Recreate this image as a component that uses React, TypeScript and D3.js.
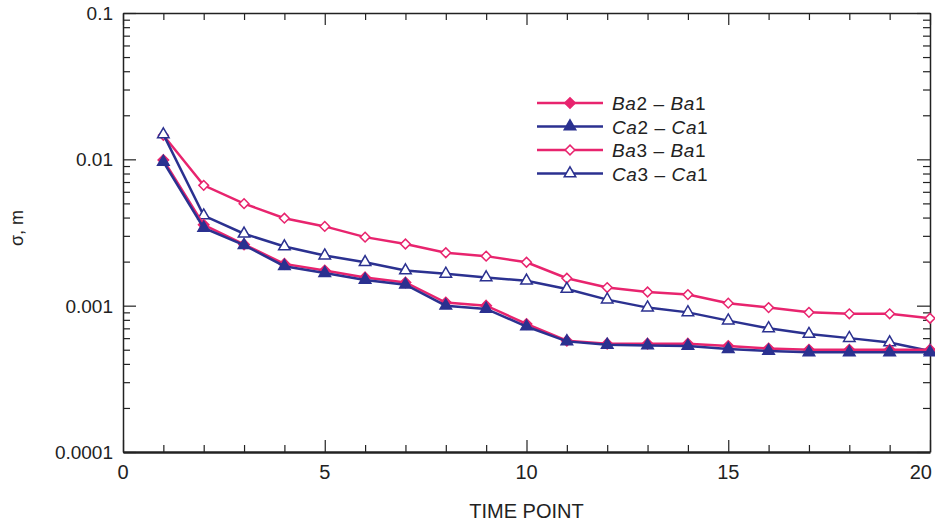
import React, { useEffect, useRef } from 'react';
import * as d3 from 'd3';

const timePoints = [1, 2, 3, 4, 5, 6, 7, 8, 9, 10, 11, 12, 13, 14, 15, 16, 17, 18, 19, 20];
const ba2ba1 = [0.0099, 0.00357, 0.00262, 0.00193, 0.00174, 0.00156, 0.00144, 0.00105, 0.001, 0.00075, 0.000576, 0.00055, 0.00055, 0.00055, 0.00053, 0.00051, 0.0005, 0.0005, 0.0005, 0.0005];
const ca2ca1 = [0.0096, 0.0034, 0.00259, 0.00186, 0.00167, 0.0015, 0.00139, 0.001, 0.00095, 0.00072, 0.00057, 0.00054, 0.000535, 0.00053, 0.000505, 0.00049, 0.00048, 0.00048, 0.00048, 0.00048];
const ba3ba1 = [0.0146, 0.00664, 0.00498, 0.00396, 0.00348, 0.00294, 0.00264, 0.0023, 0.00218, 0.00198, 0.00154, 0.00133, 0.00124, 0.00119, 0.00104, 0.00097, 0.0009, 0.00088, 0.00088, 0.00082];
const ca3ca1 = [0.0148, 0.00413, 0.0031, 0.00254, 0.0022, 0.00198, 0.00174, 0.00165, 0.00156, 0.00148, 0.0013, 0.0011, 0.00097, 0.0009, 0.00079, 0.0007, 0.00064, 0.0006, 0.00056, 0.00049];
const yTickLabels = ['0.0001', '0.001', '0.01', '0.1'];
const xTickLabels = [0, 5, 10, 15, 20];

const PINK = '#e8246e';
const NAVY = '#2b3190';

const series = [
  { a: 'Ba', n: '2', b: 'Ba', values: ba2ba1, color: PINK, shape: 'diamond', filled: true },
  { a: 'Ca', n: '2', b: 'Ca', values: ca2ca1, color: NAVY, shape: 'triangle', filled: true },
  { a: 'Ba', n: '3', b: 'Ba', values: ba3ba1, color: PINK, shape: 'diamond', filled: false },
  { a: 'Ca', n: '3', b: 'Ca', values: ca3ca1, color: NAVY, shape: 'triangle', filled: false },
];

export default function App() {
  const svgRef = useRef<SVGSVGElement>(null);

  useEffect(() => {
    const svg = d3.select(svgRef.current);
    svg.selectAll('*').remove();

    const width = 935;
    const height = 523;
    const margin = { top: 13, right: 5, bottom: 71, left: 123 };
    const font = 'Liberation Sans, Arial, sans-serif';

    const x = d3.scaleLinear().domain([0, 20]).range([margin.left, width - margin.right]);
    const y = d3.scaleLog().domain([0.0001, 0.1]).range([height - margin.bottom, margin.top]);

    const logTicks = y.ticks();
    const isMajor = (v: number) => Math.abs(Math.log10(v) - Math.round(Math.log10(v))) < 1e-6;
    const minorX = d3.range(0, 21);

    // frame axes, ticks pointing inward
    const left = svg.append('g').attr('transform', `translate(${margin.left},0)`)
      .call(d3.axisRight(y).tickValues(logTicks).tickSize(0).tickFormat(() => ''));
    left.selectAll('.tick line').attr('x2', (d: any) => (isMajor(d) ? 13 : 7));
    const right = svg.append('g').attr('transform', `translate(${width - margin.right},0)`)
      .call(d3.axisLeft(y).tickValues(logTicks).tickSize(0).tickFormat(() => ''));
    right.selectAll('.tick line').attr('x2', (d: any) => (isMajor(d) ? -13 : -7));
    const bottom = svg.append('g').attr('transform', `translate(0,${height - margin.bottom})`)
      .call(d3.axisTop(x).tickValues(minorX).tickSize(0).tickFormat(() => ''));
    bottom.selectAll('.tick line').attr('y2', (d: any) => (d % 5 === 0 ? -12 : -7));
    const top = svg.append('g').attr('transform', `translate(0,${margin.top})`)
      .call(d3.axisBottom(x).tickValues(minorX).tickSize(0).tickFormat(() => ''));
    top.selectAll('.tick line').attr('y2', (d: any) => (d % 5 === 0 ? 12 : 7));

    svg.selectAll('.domain').attr('stroke', '#222').attr('stroke-width', 1.5);
    svg.selectAll('.tick line').attr('stroke', '#222').attr('stroke-width', 1.2);
    bottom.select('.domain').attr('stroke-width', 2.5);

    // tick labels
    svg.append('g').selectAll('text').data(yTickLabels).join('text')
      .attr('x', margin.left - 10).attr('y', (d) => y(+d) + 7)
      .attr('text-anchor', 'end').attr('font-family', font).attr('font-size', 19).attr('fill', '#222')
      .text((d) => d);
    svg.append('g').selectAll('text').data(xTickLabels).join('text')
      .attr('x', (d) => (d === 20 ? width - 3 : x(d)))
      .attr('y', height - margin.bottom + 27)
      .attr('text-anchor', (d) => (d === 20 ? 'end' : 'middle'))
      .attr('font-family', font).attr('font-size', 20).attr('fill', '#222')
      .text((d) => d);

    svg.append('text').attr('x', x(10)).attr('y', 518).attr('text-anchor', 'middle')
      .attr('font-family', font).attr('font-size', 20).attr('fill', '#222').text('TIME POINT');
    svg.append('text').attr('transform', `translate(23,228) rotate(-90)`)
      .attr('text-anchor', 'middle').attr('font-family', font).attr('font-size', 18).attr('fill', '#222')
      .text('σ, m');

    const line = d3.line<number>().x((_, i) => x(timePoints[i])).y((d) => y(d));
    const symbolFor = (s: any, big: boolean) =>
      d3.symbol().type(s.shape === 'diamond' ? d3.symbolDiamond2 : d3.symbolTriangle2)
        .size(s.shape === 'diamond' ? (big ? 70 : 60) : 95)();

    const drawOrder = [2, 3, 0, 1];
    drawOrder.forEach((k) => {
      const s = series[k];
      const g = svg.append('g');
      g.append('path').datum(s.values).attr('fill', 'none').attr('stroke', s.color)
        .attr('stroke-width', 2.5).attr('d', line);
      g.selectAll('path.m').data(s.values).join('path').attr('class', 'm')
        .attr('transform', (d, i) => `translate(${x(timePoints[i])},${y(d)})`)
        .attr('d', symbolFor(s, s.filled))
        .attr('fill', s.filled ? s.color : '#fff').attr('stroke', s.color).attr('stroke-width', 1.5);
    });

    // legend
    const lg = svg.append('g').attr('transform', 'translate(537,103)');
    series.forEach((s, i) => {
      const row = lg.append('g').attr('transform', `translate(0,${i * 23.5})`);
      row.append('line').attr('x1', 0).attr('x2', 66).attr('stroke', s.color).attr('stroke-width', 2.5);
      row.append('path').attr('transform', 'translate(33,0)').attr('d', symbolFor(s, s.filled))
        .attr('fill', s.filled ? s.color : '#fff').attr('stroke', s.color).attr('stroke-width', 1.5);
      const t = row.append('text').attr('x', 75).attr('y', 7).attr('font-family', font)
        .attr('font-size', 19).attr('letter-spacing', 0.6).attr('fill', '#222');
      t.append('tspan').attr('font-style', 'italic').text(s.a);
      t.append('tspan').text(`${s.n} – `);
      t.append('tspan').attr('font-style', 'italic').text(s.b);
      t.append('tspan').text('1');
    });
  }, []);

  return (
    <div style={{ position: 'absolute', left: 0, top: 0, background: '#fff' }}>
      <svg ref={svgRef} width={935} height={523} style={{ display: 'block' }}></svg>
    </div>
  );
}
